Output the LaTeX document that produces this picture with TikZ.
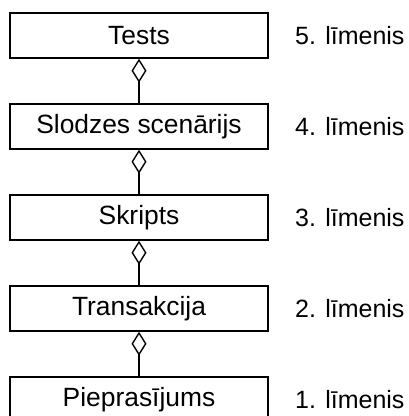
\documentclass[tikz,border=0pt]{standalone}
\usepackage{fontspec}
\setmainfont{Liberation Sans}
\usetikzlibrary{arrows.meta}
\begin{document}
\begin{tikzpicture}[x=1pt,y=-1pt,
  level/.style={draw, line width=1.4pt, minimum width=258pt, minimum height=45pt,
    inner sep=0pt, font=\fontsize{26.4}{30}\selectfont},
  levellabel/.style={anchor=west, inner sep=0pt, font=\fontsize{25}{30}\selectfont},
  agg/.style={line width=1.4pt, {Diamond[open, length=24pt, width=15pt, line width=1.4pt]}-}]
\useasboundingbox (0,0) rectangle (409,416);
\clip (0,0) rectangle (409,416);
\node[level] (l5) at (139,35.5) {Tests};
\node[level] (l4) at (139,126.5) {Slodzes scenārijs};
\node[level] (l3) at (139,217.5) {Skripts};
\node[level] (l2) at (139,308.5) {Transakcija};
\node[level] (l1) at (139,399.5) {Pieprasījums};
\node[levellabel] (t5) at (295,35.5) {5. līmenis};
\node[levellabel] (t4) at (295,126.5) {4. līmenis};
\node[levellabel] (t3) at (295,217.5) {3. līmenis};
\node[levellabel] (t2) at (295,308.5) {2. līmenis};
\node[levellabel] (t1) at (295,399.5) {1. līmenis};
\draw[agg] (l5.south) -- (l4.north);
\draw[agg] (l4.south) -- (l3.north);
\draw[agg] (l3.south) -- (l2.north);
\draw[agg] (l2.south) -- (l1.north);
\end{tikzpicture}
\end{document}
